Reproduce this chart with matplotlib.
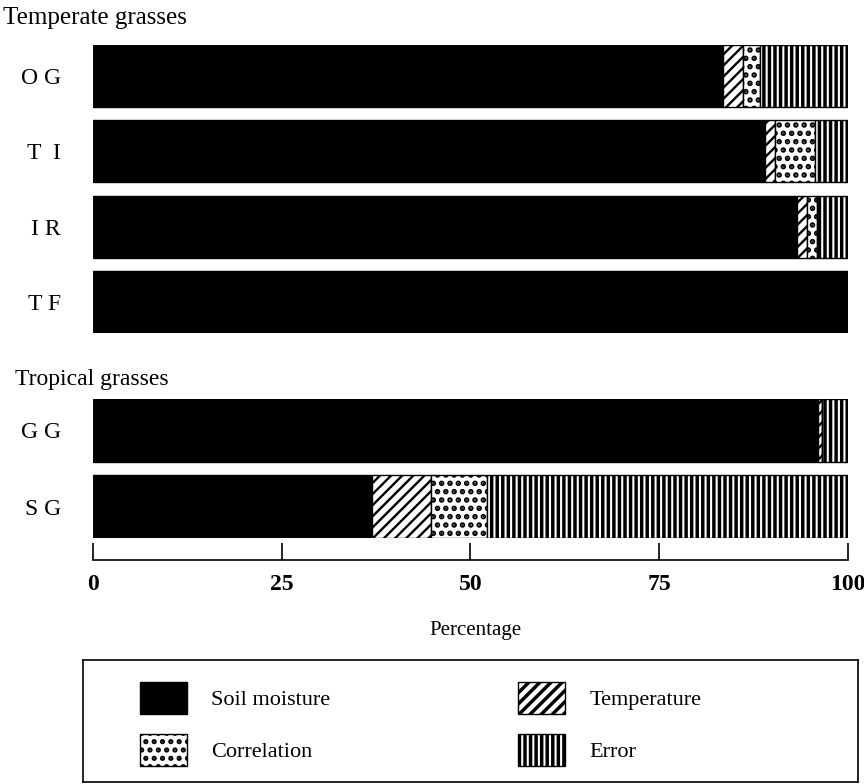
import matplotlib
matplotlib.use("Agg")
import matplotlib.pyplot as plt
from matplotlib.patches import Patch

# ---------------------------------------------------------------------------
# Data (percent of variance)
temperate = ["O G", "T  I", "I R", "T F"]
soil_temperate = [83.4, 89.0, 93.3, 99.6]
temp_temperate = [2.7, 1.3, 1.3, 0.0]
corr_temperate = [2.2, 5.3, 1.3, 0.0]
error_temperate = [11.7, 4.4, 4.1, 0.4]

tropical = ["G G", "S G"]
soil_tropical = [96.0, 37.0]
temp_tropical = [0.5, 7.8]
corr_tropical = [0.0, 7.4]
error_tropical = [3.5, 47.8]

components = ["Soil moisture", "Temperature", "Correlation", "Error"]
xticks = [0, 25, 50, 75, 100]

# ---------------------------------------------------------------------------
plt.rcParams["font.family"] = ["Liberation Serif", "DejaVu Serif"]
plt.rcParams["hatch.linewidth"] = 2.5
plt.rcParams["hatch.color"] = "black"

# fill style for each component (hatch line width in points)
styles = {
  "Soil moisture": dict(facecolor="black", hatch=None, hlw=2.5),
  "Temperature": dict(facecolor="white", hatch="///", hlw=1.7),
  "Correlation": dict(facecolor="white", hatch="..", hlw=2.7),
  "Error": dict(facecolor="white", hatch="|||", hlw=2.5),
}

W, H = 864, 784
fig = plt.figure(figsize=(W / 100, H / 100), dpi=100)

def px_axes(left, top, right, bottom):
  return fig.add_axes([left / W, 1 - bottom / H, (right - left) / W, (bottom - top) / H])

def set_hlw(patch, lw):
  # per-patch hatch width where the matplotlib version supports it
  if hasattr(patch, "set_hatch_linewidth"):
    patch.set_hatch_linewidth(lw)

bar_h = 0.82

def draw_panel(ax, names, series):
  ypos = list(range(len(names)))
  left = [0.0] * len(names)
  for comp, vals in zip(components, series):
    st = styles[comp]
    with plt.rc_context({"hatch.linewidth": st["hlw"]}):
      bars = ax.barh(ypos, vals, left=left, height=bar_h, color=st["facecolor"],
                     hatch=st["hatch"], edgecolor="black", linewidth=1.0)
    for b in bars:
      set_hlw(b, st["hlw"])
    left = [a + b for a, b in zip(left, vals)]
  ax.set_xlim(0, 100)
  ax.set_ylim(len(names) - 1 + 0.41, -0.41)
  ax.set_yticks(ypos)
  ax.set_yticklabels(names, fontsize=17)
  ax.tick_params(axis="y", length=0, pad=23)
  ax.set_xticks([])
  for s in ax.spines.values():
    s.set_visible(False)

ax1 = px_axes(93, 45, 848, 333)
draw_panel(ax1, temperate,
           [soil_temperate, temp_temperate, corr_temperate, error_temperate])

ax2 = px_axes(93, 399, 848, 538)
draw_panel(ax2, tropical,
           [soil_tropical, temp_tropical, corr_tropical, error_tropical])

fig.text(3 / W, 1 - 18 / H, "Temperate grasses", fontsize=18, va="center", ha="left")
fig.text(15 / W, 1 - 379 / H, "Tropical grasses", fontsize=17, va="center", ha="left")

# scale bar under the panels
axs = px_axes(93, 550, 848, 560)
axs.set_xlim(0, 100)
axs.set_ylim(0, 1)
axs.set_yticks([])
axs.set_xticks(xticks)
axs.set_xticklabels([str(t) for t in xticks], fontsize=17, fontweight="bold")
axs.tick_params(axis="x", direction="in", length=12, width=1.2, pad=10)
for name, s in axs.spines.items():
  s.set_visible(name == "bottom")
axs.spines["bottom"].set_linewidth(1.2)
axs.patch.set_alpha(0)

fig.text(475 / W, 1 - 630 / H, "Percentage", fontsize=15, ha="center", va="center")

# legend box
lax = px_axes(83, 660, 858, 782)
lax.set_xticks([])
lax.set_yticks([])
for s in lax.spines.values():
  s.set_linewidth(1.2)

handles = []
for c in components:
  st = styles[c]
  with plt.rc_context({"hatch.linewidth": st["hlw"]}):
    h = Patch(facecolor=st["facecolor"], hatch=st["hatch"],
              edgecolor="black", linewidth=1.0)
  set_hlw(h, st["hlw"])
  handles.append(h)

order = [0, 2, 1, 3]
fig.legend([handles[i] for i in order], [components[i] for i in order],
           loc="upper left", bbox_to_anchor=(140 / W, 1 - 682 / H),
           ncol=2, frameon=False, fontsize=16, borderpad=0, borderaxespad=0,
           handlelength=2.1, handleheight=1.85, handletextpad=1.1,
           labelspacing=0.9, columnspacing=8.45)

fig.savefig("out.png", dpi=100)
